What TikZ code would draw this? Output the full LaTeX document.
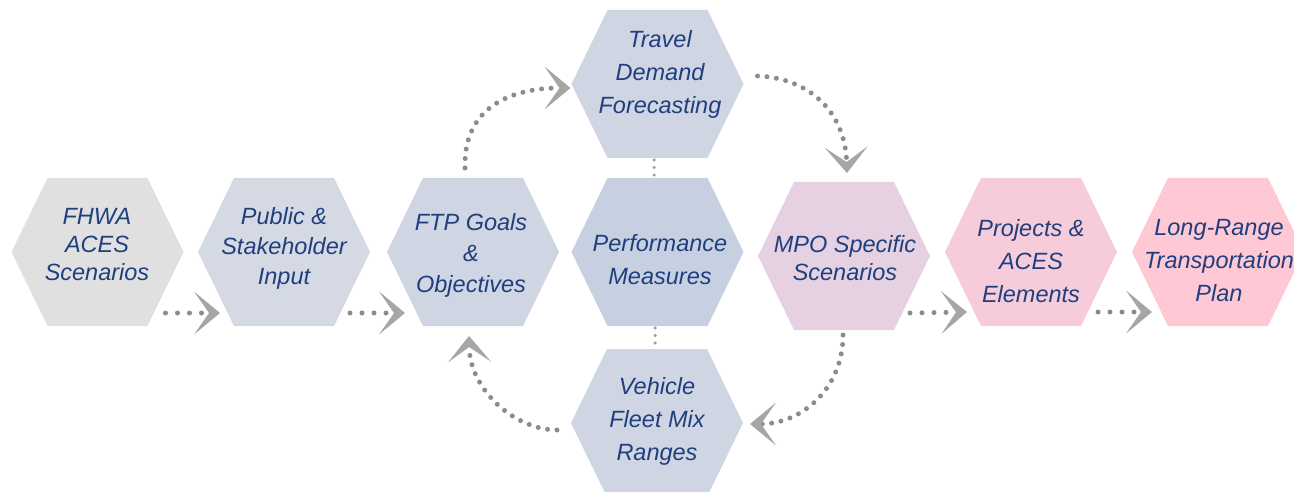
\documentclass[tikz,border=0pt]{standalone}
\usepackage{fontspec}
\setmainfont{Liberation Sans}
\usetikzlibrary{arrows.meta,calc}
\definecolor{txt}{HTML}{1F3F7F}
\definecolor{dotgray}{HTML}{8C8C8C}
\definecolor{chevgray}{HTML}{A6A6A6}
\definecolor{linkgray}{HTML}{A0A0A0}
\definecolor{cFHWA}{HTML}{E0E0E0}
\definecolor{cPUB}{HTML}{D5D9E3}
\definecolor{cFTP}{HTML}{CFD5E3}
\definecolor{cPERF}{HTML}{C7D0E1}
\definecolor{cTRAV}{HTML}{CFD5E2}
\definecolor{cVEH}{HTML}{CFD5E2}
\definecolor{cMPO}{HTML}{E6D1E2}
\definecolor{cPROJ}{HTML}{F6CCDB}
\definecolor{cLRTP}{HTML}{FEC9D4}
\newcommand\hexfill[2]{\fill[#2] (#1.west) -- ([xshift=36pt]#1.north west) -- ([xshift=-36pt]#1.north east) -- (#1.east) -- ([xshift=-36pt]#1.south east) -- ([xshift=36pt]#1.south west) -- cycle;}
\begin{document}
\begin{tikzpicture}[x=1pt,y=-1pt,
  hex/.style={minimum width=172pt, minimum height=148pt, inner sep=0pt, outer sep=0pt},
  lbl/.style={text=txt, font=\fontsize{23.5}{#1}\selectfont\itshape, align=center, inner sep=0pt},
  lbl/.default=33,
  flow/.style={draw=dotgray, line width=5pt, line cap=round, dash pattern=on 0pt off 9.5pt,
    -{Stealth[length=26pt,width=43pt,inset=15pt,color=chevgray,fill=chevgray,line width=0pt]}},
  sflow/.style={flow, dash pattern=on 0pt off 12pt},
  link/.style={draw=linkgray, line width=3.5pt, line cap=round, dash pattern=on 0pt off 7.5pt}]
\useasboundingbox (0,0) rectangle (1294,492);
% hexagon frames
\node[hex] (fhwa) at (97.5,252) {};
\node[hex] (pub) at (284,252) {};
\node[hex] (ftp) at (473,252) {};
\node[hex] (perf) at (657.5,252) {};
\node[hex] (trav) at (657.5,84) {};
\node[hex] (veh) at (657,423) {};
\node[hex] (mpo) at (844,256) {};
\node[hex] (proj) at (1031,252) {};
\node[hex] (lrtp) at (1218,252) {};
\hexfill{fhwa}{cFHWA}
\hexfill{pub}{cPUB}
\hexfill{ftp}{cFTP}
\hexfill{perf}{cPERF}
\hexfill{trav}{cTRAV}
\hexfill{veh}{cVEH}
\hexfill{mpo}{cMPO}
\hexfill{proj}{cPROJ}
\hexfill{lrtp}{cLRTP}
% labels
\node[lbl=28] (fhwa-l) at (97,245) {FHWA\\ACES\\Scenarios};
\node[lbl=30] (pub-l) at (284,248) {Public \&\\Stakeholder\\Input};
\node[lbl=31] (ftp-l) at (471,255) {FTP Goals\\\&\\Objectives};
\node[lbl=33] (perf-l) at (660,260) {Performance\\Measures};
\node[lbl=33] (trav-l) at (660,74) {Travel\\Demand\\Forecasting};
\node[lbl=33] (veh-l) at (657,421) {Vehicle\\Fleet Mix\\Ranges};
\node[lbl=28] (mpo-l) at (845,258) {MPO Specific\\Scenarios};
\node[lbl=33] (proj-l) at (1031,261) {Projects \&\\ACES\\Elements};
\node[lbl=33] (lrtp-l) at (1219,261) {Long-Range\\Transportation\\Plan};
% straight flows
\draw[sflow] ($(fhwa.center)+(68,61)$) -- ($(pub.center)+(-64,61)$);
\draw[sflow] ($(pub.center)+(66,61)$) -- ($(ftp.center)+(-68,61)$);
\draw[sflow] ($(mpo.center)+(66,57)$) -- ($(proj.center)+(-64,60)$);
\draw[sflow] ($(proj.center)+(67,60)$) -- ($(lrtp.center)+(-66,60)$);
% curved flows
\draw[flow] ($(ftp.center)+(-8,-84)$) .. controls ($(ftp.center)+(-10,-147)$) and ($(trav.center)+(-143,4)$) .. ($(trav.center)+(-87,4)$);
\draw[flow] ($(trav.center)+(100,-8)$) .. controls ($(trav.center)+(152,-6)$) and ($(mpo.center)+(1,-144)$) .. ($(mpo.center)+(3,-83)$);
\draw[flow] ($(mpo.center)+(-1,79)$) .. controls ($(mpo.center)+(-1,134)$) and ($(veh.center)+(143,1)$) .. ($(veh.center)+(93,1)$);
\draw[flow] ($(veh.center)+(-100,7)$) .. controls ($(veh.center)+(-142,7)$) and ($(ftp.center)+(-3,138)$) .. ($(ftp.center)+(-4,84)$);
% vertical links
\draw[link] ($(trav.center)+(-3.5,76)$) -- ($(perf.center)+(-3.5,-76)$);
\draw[link] ($(perf.center)+(-2.5,76)$) -- ($(veh.center)+(-2,-79)$);
\end{tikzpicture}
\end{document}
